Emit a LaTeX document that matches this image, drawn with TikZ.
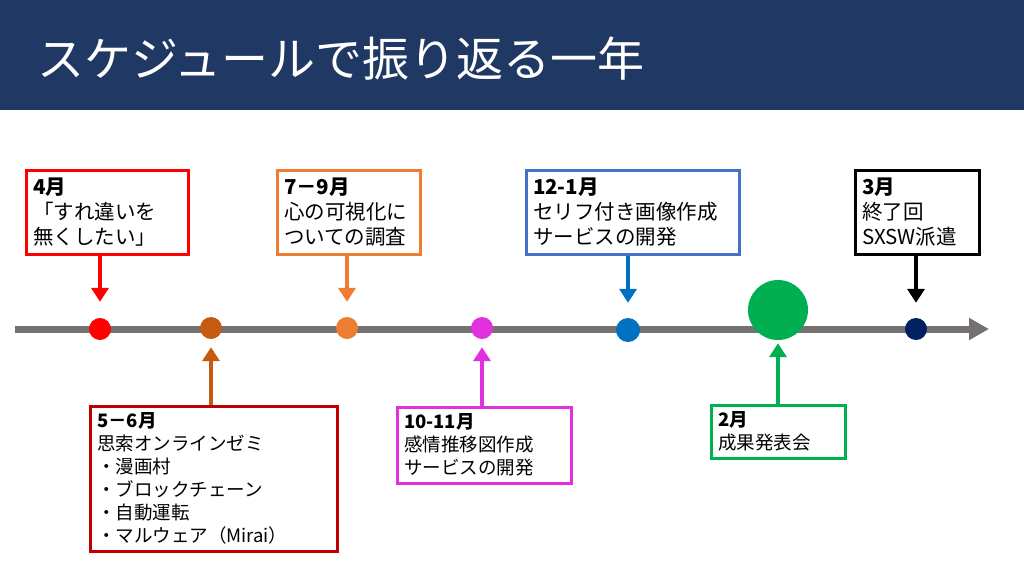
\documentclass[tikz,border=0pt]{standalone}
\usepackage{fontspec}
\setmainfont{Noto Sans CJK JP}
\usetikzlibrary{arrows.meta}
\definecolor{hdr}{HTML}{203864}
\definecolor{tline}{HTML}{767171}
\definecolor{cred}{HTML}{FF0000}
\definecolor{cbrown}{HTML}{C55A11}
\definecolor{corange}{HTML}{ED7D31}
\definecolor{cmag}{HTML}{E030E0}
\definecolor{cblue}{HTML}{0070C0}
\definecolor{cbluebox}{HTML}{4472C4}
\definecolor{cgreen}{HTML}{00B050}
\definecolor{cnavy}{HTML}{002060}
\definecolor{cdred}{HTML}{C00000}
\begin{document}
\begin{tikzpicture}[x=1pt,y=-1pt,
  evbox/.style={draw=#1, line width=3pt, fill=white, anchor=north west, align=left,
    inner xsep=7pt, inner ysep=2pt, text=black, font=\fontsize{20.5}{25}\selectfont},
  evboxs/.style={evbox=#1, font=\fontsize{18.5}{23}\selectfont},
  evdot/.style={circle, inner sep=0pt, minimum size=22pt, draw=none, fill=#1},
  conn/.style={line width=4.5pt, draw=#1, -{Triangle[width=17pt,length=14pt]}}
]
\useasboundingbox (0,0) rectangle (1024,576);
\fill[hdr] (0,0) rectangle (1024,110);
\node[anchor=west, text=white, inner sep=0pt, font=\fontsize{47}{50}\selectfont] (title) at (37,59) {スケジュールで振り返る一年};

% timeline
\coordinate (ls) at (15,329);
\coordinate (le) at (989,329);
\draw[line width=7pt, tline, -{Triangle[width=21pt,length=20pt]}] (ls) -- (le);

% dots
\node[evdot=cred] (d4) at (100,329) {};
\node[evdot=cbrown] (d56) at (211,328) {};
\node[evdot=corange] (d79) at (347,328) {};
\node[evdot=cmag] (d1011) at (482,328) {};
\node[evdot=cblue, minimum size=24pt] (d121) at (628,330) {};
\node[evdot=cgreen, minimum size=60pt] (d2) at (778,310) {};
\node[evdot=cnavy] (d3) at (916,329) {};

% top boxes
\node[evbox=cred, text width=148pt, minimum height=84pt] (b4) at (24.5,168.5)
  {\textbf{4月}\\「すれ違いを\\無くしたい」};
\node[evbox=corange, text width=129pt, minimum height=84pt] (b79) at (275.5,168.5)
  {\textbf{7－9月}\\心の可視化に\\ついての調査};
\node[evbox=cbluebox, text width=199pt, minimum height=84pt] (b121) at (524.5,168.5)
  {\textbf{12-1月}\\セリフ付き画像作成\\サービスの開発};
\node[evbox=black, text width=110pt, minimum height=84pt] (b3) at (853.5,168.5)
  {\textbf{3月}\\終了回\\SXSW派遣};

% bottom boxes
\node[evboxs=cdred, text width=233pt, minimum height=145pt] (b56) at (88.5,404.5)
  {\textbf{5－6月}\\思索オンラインゼミ\\・漫画村\\・ブロックチェーン\\・自動運転\\・マルウェア（Mirai）};
\node[evboxs=cmag, text width=160pt, minimum height=76pt] (b1011) at (395.5,405.5)
  {\textbf{10-11月}\\感情推移図作成\\サービスの開発};
\node[evboxs=cgreen, text width=120pt, minimum height=53pt] (b2) at (709.5,403.5)
  {\textbf{2月}\\成果発表会};

% connectors
\draw[conn=cred, shorten >=16pt] (d4 |- b4.south) -- (d4.north);
\draw[conn=corange, shorten >=15pt] (d79 |- b79.south) -- (d79.north);
\draw[conn=cblue, shorten >=15pt] (d121 |- b121.south) -- (d121.north);
\draw[conn=black, shorten >=15pt] (d3 |- b3.south) -- (d3.north);
\draw[conn=cbrown, shorten >=8pt] (d56 |- b56.north) -- (d56.south);
\draw[conn=cmag, shorten >=8pt] (d1011 |- b1011.north) -- (d1011.south);
\draw[conn=cgreen, shorten >=3pt] (d2 |- b2.north) -- (d2.south);
\end{tikzpicture}
\end{document}
